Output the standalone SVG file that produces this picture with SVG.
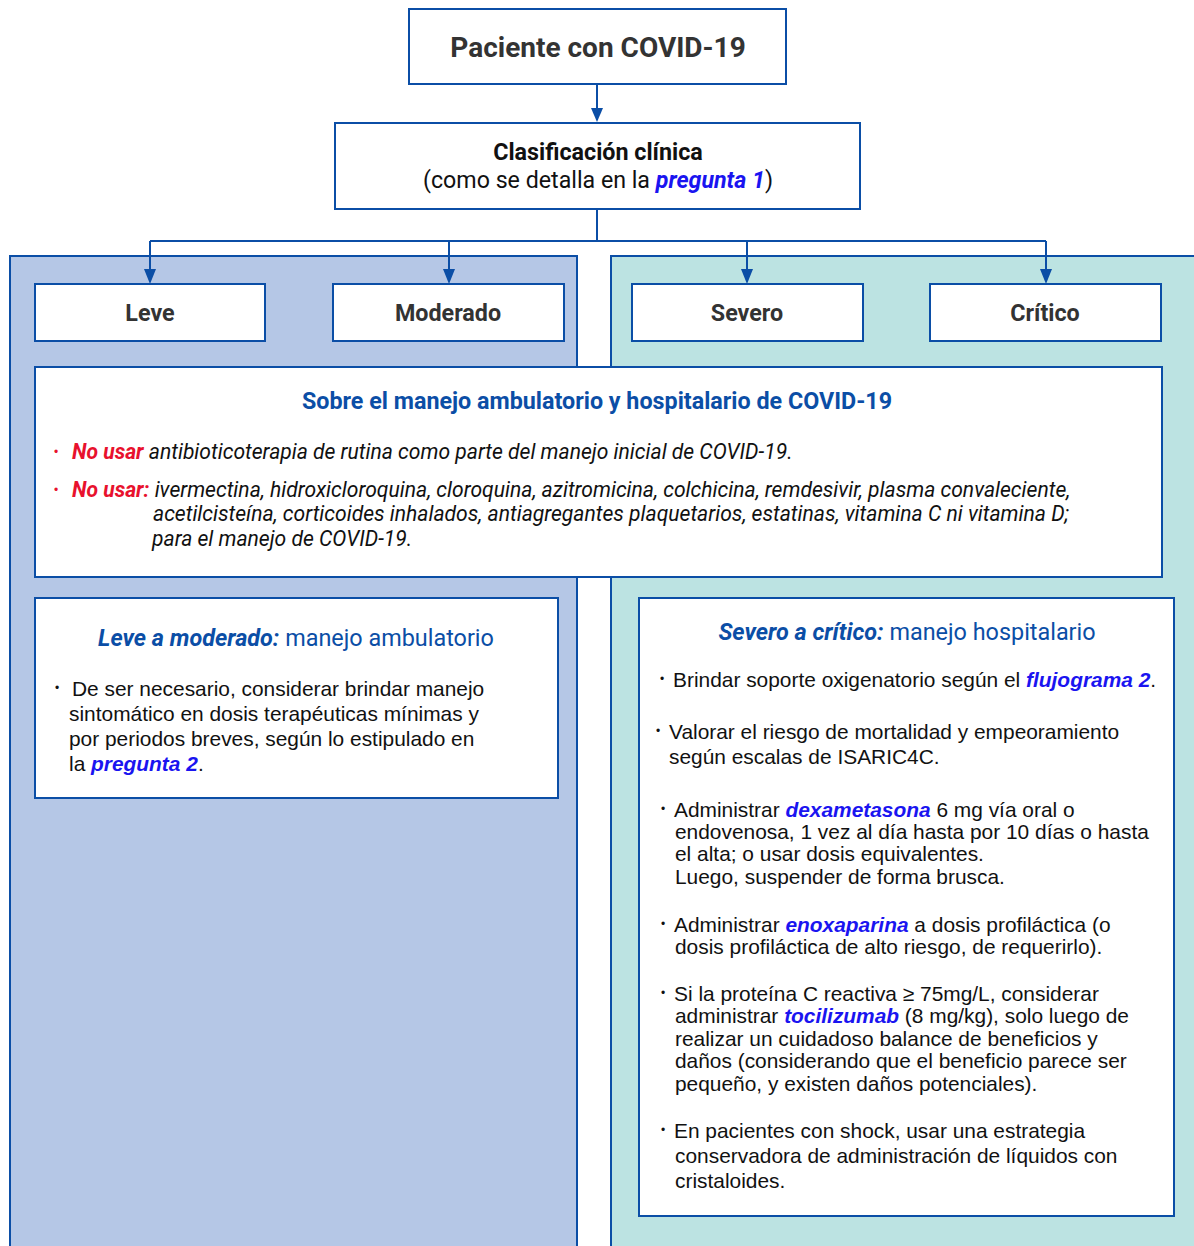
<svg xmlns="http://www.w3.org/2000/svg" width="1194" height="1246" viewBox="0 0 1194 1246">
<style>
.box{fill:#fff;stroke:#0b4ea6;stroke-width:2}
.panel{stroke:#0b4ea6;stroke-width:2}
.conn{fill:none;stroke:#0b4ea6;stroke-width:2}
.rb{font-family:Roboto,"Liberation Sans",sans-serif;font-weight:bold;fill:#333}
.lbl{font-size:23.3px;text-anchor:middle}
.h{font-family:Roboto,"Liberation Sans",sans-serif;fill:#0b4ea6}
.it{font-family:Roboto,"Liberation Sans",sans-serif;font-style:italic;font-size:21.1px;fill:#111}
.red{fill:#e8112d;font-weight:bold}
.ar{font-family:"Liberation Sans",Arial,sans-serif;font-size:20.9px;fill:#111}
.lk{fill:#1a14f0;font-weight:bold;font-style:italic}
.bul{font-family:"Liberation Sans",Arial,sans-serif;font-size:12px;fill:#111}
</style>
<rect width="1194" height="1246" fill="#fff"/>
<g id="panel-left"><rect class="panel" x="10" y="256" width="567" height="1000" fill="#b5c7e6"/></g>
<g id="panel-right"><rect class="panel" x="611" y="256" width="600" height="1000" fill="#bce3e2"/></g>

<g id="connectors">
<line class="conn" x1="597" y1="84" x2="597" y2="109"/>
<path d="M591,108 L603,108 L597,122 Z" fill="#0b4ea6"/>
<polyline class="conn" points="597,209 597,241"/>
<line class="conn" x1="150" y1="241" x2="1046" y2="241"/>
<line class="conn" x1="150" y1="241" x2="150" y2="271"/>
<path d="M144,269 L156,269 L150,284 Z" fill="#0b4ea6"/>
<line class="conn" x1="449" y1="241" x2="449" y2="271"/>
<path d="M443,269 L455,269 L449,284 Z" fill="#0b4ea6"/>
<line class="conn" x1="747" y1="241" x2="747" y2="271"/>
<path d="M741,269 L753,269 L747,284 Z" fill="#0b4ea6"/>
<line class="conn" x1="1046" y1="241" x2="1046" y2="271"/>
<path d="M1040,269 L1052,269 L1046,284 Z" fill="#0b4ea6"/>
</g>

<g id="paciente">
<rect class="box" x="409" y="9" width="377" height="75"/>
<text class="rb" x="598" y="57" font-size="28" text-anchor="middle">Paciente con COVID-19</text>
</g>

<g id="clasificacion">
<rect class="box" x="335" y="123" width="525" height="86"/>
<text class="rb" x="598" y="160" font-size="23.3" text-anchor="middle" style="fill:#111">Clasificación clínica</text>
<text x="598" y="188" font-family="Roboto,'Liberation Sans',sans-serif" font-size="23.2" fill="#111" text-anchor="middle">(como se detalla en la <tspan class="lk">pregunta 1</tspan>)</text>
</g>

<g id="leve"><rect class="box" x="35" y="284" width="230" height="57"/><text class="rb lbl" x="150" y="321">Leve</text></g>
<g id="moderado"><rect class="box" x="333" y="284" width="231" height="57"/><text class="rb lbl" x="448" y="321">Moderado</text></g>
<g id="severo"><rect class="box" x="632" y="284" width="231" height="57"/><text class="rb lbl" x="747" y="321">Severo</text></g>
<g id="critico"><rect class="box" x="930" y="284" width="231" height="57"/><text class="rb lbl" x="1045" y="321">Crítico</text></g>

<g id="sobre">
<rect class="box" x="35" y="367" width="1127" height="210"/>
<text class="h" x="597" y="409" font-size="23.3" font-weight="bold" text-anchor="middle">Sobre el manejo ambulatorio y hospitalario de COVID-19</text>
<text class="bul" x="54" y="456" style="fill:#e8112d">•</text>
<text class="it" x="72" y="459"><tspan class="red">No usar</tspan> antibioticoterapia de rutina como parte del manejo inicial de COVID-19.</text>
<text class="bul" x="54" y="494" style="fill:#e8112d">•</text>
<text class="it" x="72" y="497"><tspan class="red">No usar:</tspan> ivermectina, hidroxicloroquina, cloroquina, azitromicina, colchicina, remdesivir, plasma convaleciente,</text>
<text class="it" x="153" y="521">acetilcisteína, corticoides inhalados, antiagregantes plaquetarios, estatinas, vitamina C ni vitamina D;</text>
<text class="it" x="152" y="546">para el manejo de COVID-19.</text>
</g>

<g id="leve-moderado">
<rect class="box" x="35" y="598" width="523" height="200"/>
<text class="h" x="296" y="646" font-size="23.4" text-anchor="middle"><tspan font-weight="bold" font-style="italic">Leve a moderado:</tspan> manejo ambulatorio</text>
<text class="bul" x="55" y="692">•</text>
<text class="ar" x="72" y="696">De ser necesario, considerar brindar manejo</text>
<text class="ar" x="69" y="721">sintomático en dosis terapéuticas mínimas y</text>
<text class="ar" x="69" y="746">por periodos breves, según lo estipulado en</text>
<text class="ar" x="69" y="771">la <tspan class="lk">pregunta 2</tspan>.</text>
</g>

<g id="severo-critico">
<rect class="box" x="639" y="598" width="535" height="618"/>
<text class="h" x="907" y="640" font-size="23.4" text-anchor="middle"><tspan font-weight="bold" font-style="italic">Severo a crítico:</tspan> manejo hospitalario</text>
<text class="bul" x="660" y="683">•</text>
<text class="ar" x="673" y="687">Brindar soporte oxigenatorio según el <tspan class="lk">flujograma 2</tspan>.</text>
<text class="bul" x="656" y="735">•</text>
<text class="ar" x="669" y="739">Valorar el riesgo de mortalidad y empeoramiento</text>
<text class="ar" x="669" y="764">según escalas de ISARIC4C.</text>
<text class="bul" x="661" y="813">•</text>
<text class="ar" x="674" y="817">Administrar <tspan class="lk">dexametasona</tspan> 6 mg vía oral o</text>
<text class="ar" x="675" y="839">endovenosa, 1 vez al día hasta por 10 días o hasta</text>
<text class="ar" x="675" y="861">el alta; o usar dosis equivalentes.</text>
<text class="ar" x="675" y="884">Luego, suspender de forma brusca.</text>
<text class="bul" x="661" y="928">•</text>
<text class="ar" x="674" y="932">Administrar <tspan class="lk">enoxaparina</tspan> a dosis profiláctica (o</text>
<text class="ar" x="675" y="954">dosis profiláctica de alto riesgo, de requerirlo).</text>
<text class="bul" x="661" y="997">•</text>
<text class="ar" x="674" y="1001">Si la proteína C reactiva ≥ 75mg/L, considerar</text>
<text class="ar" x="675" y="1023">administrar <tspan class="lk">tocilizumab</tspan> (8 mg/kg), solo luego de</text>
<text class="ar" x="675" y="1046">realizar un cuidadoso balance de beneficios y</text>
<text class="ar" x="675" y="1068">daños (considerando que el beneficio parece ser</text>
<text class="ar" x="675" y="1091">pequeño, y existen daños potenciales).</text>
<text class="bul" x="661" y="1134">•</text>
<text class="ar" x="674" y="1138">En pacientes con shock, usar una estrategia</text>
<text class="ar" x="675" y="1163">conservadora de administración de líquidos con</text>
<text class="ar" x="675" y="1188">cristaloides.</text>
</g>
</svg>
